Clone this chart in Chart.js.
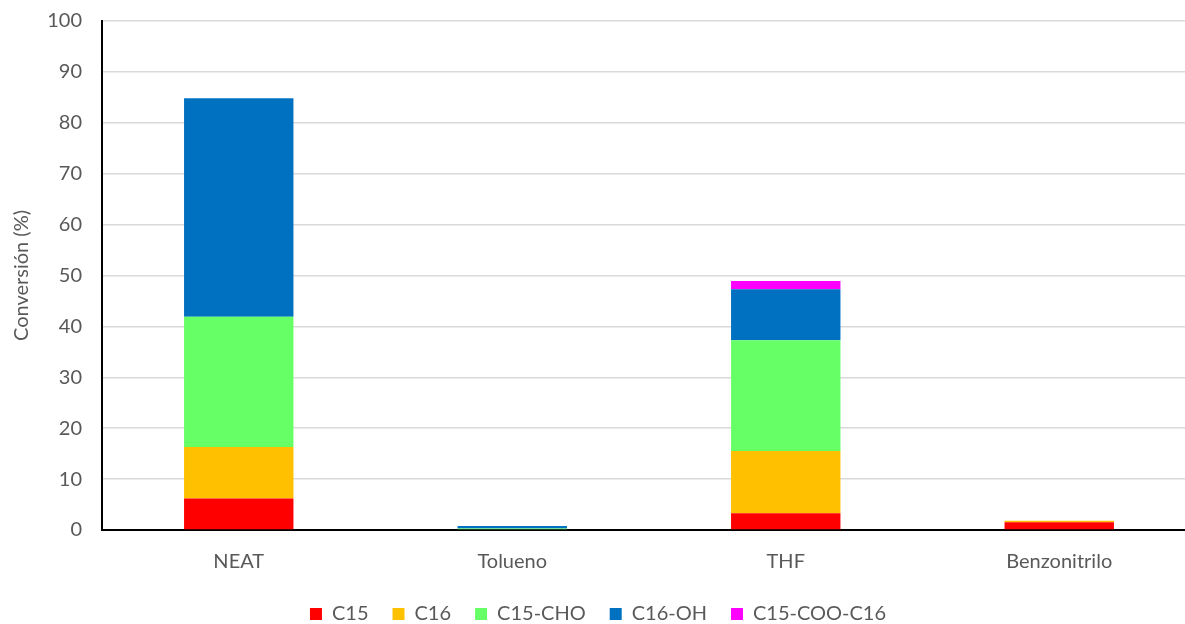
<!DOCTYPE html>
<html>
<head>
<meta charset="utf-8">
<script src="https://cdn.jsdelivr.net/npm/chart.js@4"></script>
<style>
  html, body { margin: 0; padding: 0; background: #fff; overflow: hidden; }
  #wrap { width: 1196px; height: 624px; }
</style>
</head>
<body>
<div id="wrap"><canvas id="chart"></canvas></div>
<script>
const categories = ['NEAT', 'Tolueno', 'THF', 'Benzonitrilo'];

const c15 = [6.2, 0, 3.3, 1.5];
const c16 = [10.1, 0, 12.2, 0.3];
const c15Cho = [25.6, 0.3, 21.8, 0];
const c16Oh = [42.9, 0.5, 10.0, 0];
const c15CooC16 = [0, 0, 1.6, 0];

const seriesNames = ['C15', 'C16', 'C15-CHO', 'C16-OH', 'C15-COO-C16'];
const seriesColors = ['#ff0000', '#ffc000', '#66ff66', '#0070c0', '#ff00ff'];
const seriesValues = [c15, c16, c15Cho, c16Oh, c15CooC16];

const font = { family: 'Lato, "Open Sans", sans-serif', size: 20 };
const textColor = '#595959';

new Chart(document.getElementById('chart'), {
  type: 'bar',
  data: {
    labels: categories,
    datasets: seriesNames.map((name, i) => ({
      label: name,
      data: seriesValues[i],
      backgroundColor: seriesColors[i],
      borderWidth: 0,
      categoryPercentage: 1,
      barPercentage: 0.4
    }))
  },
  options: {
    responsive: true,
    maintainAspectRatio: false,
    animation: false,
    layout: { padding: { top: 21, right: 0, bottom: -10, left: 0 } },
    plugins: {
      tooltip: { enabled: false },
      legend: {
        position: 'bottom',
        labels: {
          color: textColor,
          font: font,
          boxWidth: 12,
          boxHeight: 12,
          padding: 24
        }
      }
    },
    scales: {
      x: {
        stacked: true,
        grid: { display: false, drawTicks: false },
        border: { color: '#000', width: 2 },
        ticks: { color: textColor, font: font, padding: 20 },
        afterFit: scale => { scale.height = 50; }
      },
      y: {
        stacked: true,
        min: 0,
        max: 100,
        ticks: { stepSize: 10, color: textColor, font: font, padding: 20 },
        grid: { color: '#d9d9d9', lineWidth: 1.5, drawTicks: false },
        border: { color: '#000', width: 2 },
        title: { display: true, text: 'Conversión (%)', color: textColor, font: font, padding: { top: 10, bottom: 0 } },
        afterFit: scale => {
          scale.width = 102;
          scale.paddingTop = 0;
          scale.paddingBottom = 0;
        }
      }
    }
  }
});
</script>
</body>
</html>
